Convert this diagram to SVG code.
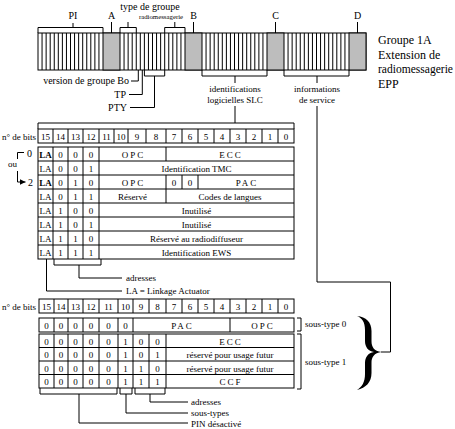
<svg xmlns="http://www.w3.org/2000/svg" width="455" height="429" viewBox="0 0 455 429" font-family="'Liberation Serif','DejaVu Serif',serif">
<style>
text{font-family:"Liberation Serif","DejaVu Serif",serif;fill:#000}
.s7{font-size:6.8px}.s9{font-size:9px}.s10{font-size:10px}.s12{font-size:12px}
.m{text-anchor:middle}.e{text-anchor:end}
.b{font-weight:bold}
.ln{fill:none;stroke:#000;stroke-width:1}
.cell{fill:#fff;stroke:#000;stroke-width:1}
.chk{fill:#bdbdbd;stroke:#000;stroke-width:1}
.sp{letter-spacing:2px}
</style>
<defs>
<marker id="arr" viewBox="0 0 6 6" refX="6" refY="3" markerWidth="6" markerHeight="6" orient="auto" markerUnits="userSpaceOnUse"><path d="M0 0L6 3L0 6z" fill="#000"/></marker>
</defs>
<rect width="455" height="429" fill="#fff"/>

<g id="bar">
<rect class="cell" x="38" y="33" width="328" height="37"/>
<rect class="chk" x="103" y="33" width="17" height="37"/>
<rect class="chk" x="185" y="33" width="17" height="37"/>
<rect class="chk" x="267" y="33" width="17" height="37"/>
<rect class="chk" x="349" y="33" width="17" height="37"/>
<path class="ln" d="M42.06 33V70M46.13 33V70M50.19 33V70M54.25 33V70M58.31 33V70M62.38 33V70M66.44 33V70M70.5 33V70M74.56 33V70M78.63 33V70M82.69 33V70M86.75 33V70M90.81 33V70M94.88 33V70M98.94 33V70
M124.06 33V70M128.13 33V70M132.19 33V70M136.25 33V70M140.31 33V70M144.38 33V70M148.44 33V70M152.5 33V70M156.56 33V70M160.63 33V70M164.69 33V70M168.75 33V70M172.81 33V70M176.88 33V70M180.94 33V70
M206.06 33V70M210.13 33V70M214.19 33V70M218.25 33V70M222.31 33V70M226.38 33V70M230.44 33V70M234.5 33V70M238.56 33V70M242.63 33V70M246.69 33V70M250.75 33V70M254.81 33V70M258.88 33V70M262.94 33V70
M288.06 33V70M292.13 33V70M296.19 33V70M300.25 33V70M304.31 33V70M308.38 33V70M312.44 33V70M316.5 33V70M320.56 33V70M324.63 33V70M328.69 33V70M332.75 33V70M336.81 33V70M340.88 33V70M344.94 33V70"/>
</g>

<g id="title">
<text class="s12" x="378" y="44">Groupe 1A</text>
<text class="s12" x="378" y="58.5">Extension de</text>
<text class="s12" x="378" y="73" textLength="75" lengthAdjust="spacingAndGlyphs">radiomessagerie</text>
<text class="s12" x="378" y="87.5">EPP</text>
</g>

<g id="top-labels">
<text class="s10 m" x="73" y="18.5">PI</text>
<text class="s10 m" x="111.5" y="18.5">A</text>
<text class="s10 m" x="150" y="10">type de groupe</text>
<text class="s7 m" x="161" y="19">radiomessagerie</text>
<text class="s10 m" x="193.5" y="18.5">B</text>
<text class="s10 m" x="275.5" y="18.5">C</text>
<text class="s10 m" x="357.5" y="18.5">D</text>
<text class="s10 e" x="129" y="84">version de groupe Bo</text>
<text class="s10 e" x="126" y="97.5">TP</text>
<text class="s10 e" x="127" y="111">PTY</text>
<text class="s9 m" x="235" y="92">identifications</text>
<text class="s9 m" x="235" y="103">logicielles SLC</text>
<text class="s9 m" x="317" y="92">informations</text>
<text class="s9 m" x="317" y="103">de service</text>
</g>

<g id="table1">
<text class="s9" x="2" y="139.5">n° de bits</text>
<rect class="cell" x="38" y="129" width="256" height="14"/>
<path class="ln" d="M53 129V143M68 129V143M83 129V143M99 129V143M114 129V143M128 129V143M146 129V143M166 129V143M182 129V143M198 129V143M214 129V143M230 129V143M246 129V143M262 129V143M278 129V143"/>
<g class="s9">
<text class="m" x="45.5" y="139.5">15</text><text class="m" x="60.5" y="139.5">14</text><text class="m" x="75.5" y="139.5">13</text><text class="m" x="91" y="139.5">12</text>
<text class="m" x="106.5" y="139.5">11</text><text class="m" x="121" y="139.5">10</text><text class="m" x="137" y="139.5">9</text><text class="m" x="156" y="139.5">8</text>
<text class="m" x="174" y="139.5">7</text><text class="m" x="190" y="139.5">6</text><text class="m" x="206" y="139.5">5</text><text class="m" x="222" y="139.5">4</text>
<text class="m" x="238" y="139.5">3</text><text class="m" x="254" y="139.5">2</text><text class="m" x="270" y="139.5">1</text><text class="m" x="286" y="139.5">0</text>
</g>
<rect class="cell" x="38" y="147" width="256" height="112"/>
<path class="ln" d="M38 161H294M38 175H294M38 189H294M38 203H294M38 217H294M38 231H294M38 245H294M53 147V259M68 147V259M83 147V259M99 147V259M166 147V161M166 175V203M182 175V189M198 175V189"/>
<g class="s9">
<text class="m b" x="45.5" y="157.5">LA</text><text class="m" x="60.5" y="157.5">0</text><text class="m" x="75.5" y="157.5">0</text><text class="m" x="91" y="157.5">0</text>
<text class="m sp" x="133.5" y="157.5">OPC</text><text class="m sp" x="231" y="157.5">ECC</text>
<text class="m" x="45.5" y="171.5">LA</text><text class="m" x="60.5" y="171.5">0</text><text class="m" x="75.5" y="171.5">0</text><text class="m" x="91" y="171.5">1</text>
<text class="m" x="196.5" y="171.5">Identification TMC</text>
<text class="m b" x="45.5" y="185.5">LA</text><text class="m" x="60.5" y="185.5">0</text><text class="m" x="75.5" y="185.5">1</text><text class="m" x="91" y="185.5">0</text>
<text class="m sp" x="133.5" y="185.5">OPC</text><text class="m" x="174" y="185.5">0</text><text class="m" x="190" y="185.5">0</text><text class="m sp" x="247" y="185.5">PAC</text>
<text class="m" x="45.5" y="199.5">LA</text><text class="m" x="60.5" y="199.5">0</text><text class="m" x="75.5" y="199.5">1</text><text class="m" x="91" y="199.5">1</text>
<text class="m" x="132.5" y="199.5">Réservé</text><text class="m" x="230" y="199.5">Codes de langues</text>
<text class="m" x="45.5" y="213.5">LA</text><text class="m" x="60.5" y="213.5">1</text><text class="m" x="75.5" y="213.5">0</text><text class="m" x="91" y="213.5">0</text>
<text class="m" x="196.5" y="213.5">Inutilisé</text>
<text class="m" x="45.5" y="227.5">LA</text><text class="m" x="60.5" y="227.5">1</text><text class="m" x="75.5" y="227.5">0</text><text class="m" x="91" y="227.5">1</text>
<text class="m" x="196.5" y="227.5">Inutilisé</text>
<text class="m" x="45.5" y="241.5">LA</text><text class="m" x="60.5" y="241.5">1</text><text class="m" x="75.5" y="241.5">1</text><text class="m" x="91" y="241.5">0</text>
<text class="m" x="196.5" y="241.5">Réservé au radiodiffuseur</text>
<text class="m" x="45.5" y="255.5">LA</text><text class="m" x="60.5" y="255.5">1</text><text class="m" x="75.5" y="255.5">1</text><text class="m" x="91" y="255.5">1</text>
<text class="m" x="196.5" y="255.5">Identification EWS</text>
</g>
<text class="s10" x="27" y="157">0</text>
<text class="s9" x="8" y="167">ou</text>
<text class="s10" x="28" y="186">2</text>
<text class="s9" x="126" y="281">adresses</text>
<text class="s9" x="126" y="294">LA = Linkage Actuator</text>
</g>

<g id="table2">
<text class="s9" x="2" y="309.5">n° de bits</text>
<rect class="cell" x="39" y="299" width="255" height="14"/>
<path class="ln" d="M54 299V313M68 299V313M83 299V313M99 299V313M118 299V313M133 299V313M149 299V313M166 299V313M182 299V313M198 299V313M214 299V313M230 299V313M246 299V313M262 299V313M278 299V313"/>
<g class="s9">
<text class="m" x="46.5" y="309.5">15</text><text class="m" x="61" y="309.5">14</text><text class="m" x="75.5" y="309.5">13</text><text class="m" x="91" y="309.5">12</text>
<text class="m" x="108.5" y="309.5">11</text><text class="m" x="125.5" y="309.5">10</text><text class="m" x="141" y="309.5">9</text><text class="m" x="157.5" y="309.5">8</text>
<text class="m" x="174" y="309.5">7</text><text class="m" x="190" y="309.5">6</text><text class="m" x="206" y="309.5">5</text><text class="m" x="222" y="309.5">4</text>
<text class="m" x="238" y="309.5">3</text><text class="m" x="254" y="309.5">2</text><text class="m" x="270" y="309.5">1</text><text class="m" x="286" y="309.5">0</text>
</g>
<rect class="cell" x="39" y="318" width="255" height="14"/>
<path class="ln" d="M54 318V332M68 318V332M83 318V332M99 318V332M118 318V332M133 318V332M230 318V332"/>
<rect class="cell" x="39" y="334" width="255" height="54"/>
<path class="ln" d="M39 347.5H294M39 361H294M39 374.5H294M54 334V388M68 334V388M83 334V388M99 334V388M118 334V388M133 334V388M149 334V388M166 334V388"/>
<g class="s9">
<text class="m" x="46.5" y="328.5">0</text><text class="m" x="61" y="328.5">0</text><text class="m" x="75.5" y="328.5">0</text><text class="m" x="91" y="328.5">0</text><text class="m" x="108.5" y="328.5">0</text><text class="m" x="125.5" y="328.5">0</text>
<text class="m sp" x="182.5" y="328.5">PAC</text><text class="m sp" x="263" y="328.5">OPC</text>
<text class="m" x="46.5" y="344.5">0</text><text class="m" x="61" y="344.5">0</text><text class="m" x="75.5" y="344.5">0</text><text class="m" x="91" y="344.5">0</text><text class="m" x="108.5" y="344.5">0</text><text class="m" x="125.5" y="344.5">1</text><text class="m" x="141" y="344.5">0</text><text class="m" x="157.5" y="344.5">0</text>
<text class="m sp" x="231" y="344.5">ECC</text>
<text class="m" x="46.5" y="358">0</text><text class="m" x="61" y="358">0</text><text class="m" x="75.5" y="358">0</text><text class="m" x="91" y="358">0</text><text class="m" x="108.5" y="358">0</text><text class="m" x="125.5" y="358">1</text><text class="m" x="141" y="358">0</text><text class="m" x="157.5" y="358">1</text>
<text class="m" x="230" y="358">réservé pour usage futur</text>
<text class="m" x="46.5" y="371.5">0</text><text class="m" x="61" y="371.5">0</text><text class="m" x="75.5" y="371.5">0</text><text class="m" x="91" y="371.5">0</text><text class="m" x="108.5" y="371.5">0</text><text class="m" x="125.5" y="371.5">1</text><text class="m" x="141" y="371.5">1</text><text class="m" x="157.5" y="371.5">0</text>
<text class="m" x="230" y="371.5">réservé pour usage futur</text>
<text class="m" x="46.5" y="385">0</text><text class="m" x="61" y="385">0</text><text class="m" x="75.5" y="385">0</text><text class="m" x="91" y="385">0</text><text class="m" x="108.5" y="385">0</text><text class="m" x="125.5" y="385">1</text><text class="m" x="141" y="385">1</text><text class="m" x="157.5" y="385">1</text>
<text class="m sp" x="231" y="385">CCF</text>
</g>
<text class="s9" x="305" y="326.5">sous-type 0</text>
<text class="s9" x="305" y="364.5">sous-type 1</text>
<text class="s9" x="191" y="405">adresses</text>
<text class="s9" x="191" y="416">sous-types</text>
<text class="s9" x="191" y="426.5">PIN désactivé</text>
</g>

<g id="brace">
<path fill="#000" d="M357 316C366 317 371.5 322 371.5 331L371.5 341C371.5 347 374 351 381.5 352C374 353 371.5 357 371.5 363L371.5 373C371.5 382 366 388 357 390C362 387 365 382 365 374L365 363C365 357 368 353 374 352C368 351 365 347 365 341L365 330C365 322 362 318 357 316Z"/>
</g>

<g id="connectors" class="ln">
<path d="M38 33V27.5H103V33M73 27.5V23"/>
<path d="M111.5 22V33"/>
<path d="M120 33V27.5H136.3V33M128 27.5V22"/>
<path d="M164.7 33V27.5H185V33M174.8 27.5V22"/>
<path d="M193.5 22V33M275.5 22V33M357.5 22V33"/>
<path d="M138.3 70V81H131"/>
<path d="M142.3 70V94.5H129"/>
<path d="M144.4 70V76H164.7V70M154.5 76V107.5H130"/>
<path d="M202 70V76H267V70M235 76V83M235 106V123"/>
<path d="M38 129V123H294V129"/>
<path d="M284 70V76H349V70M317 76V83M317 106V282H390.5V352H381"/>
<path d="M17.5 159V152.5H24"/>
<path d="M17.5 171V182H25.5" marker-end="url(#arr)"/>
<path d="M54 259V265H101V259M79 265V278H122"/>
<path d="M46.5 259V291H122"/>
<path d="M297 318H301V331H297M297 334H301V389H297"/>
<path d="M40 388V394H117V388M79 394V423H188"/>
<path d="M120 388V394H132V388M126 394V413H188"/>
<path d="M135 388V394H165V388M150 394V402H188"/>
</g>
</svg>
